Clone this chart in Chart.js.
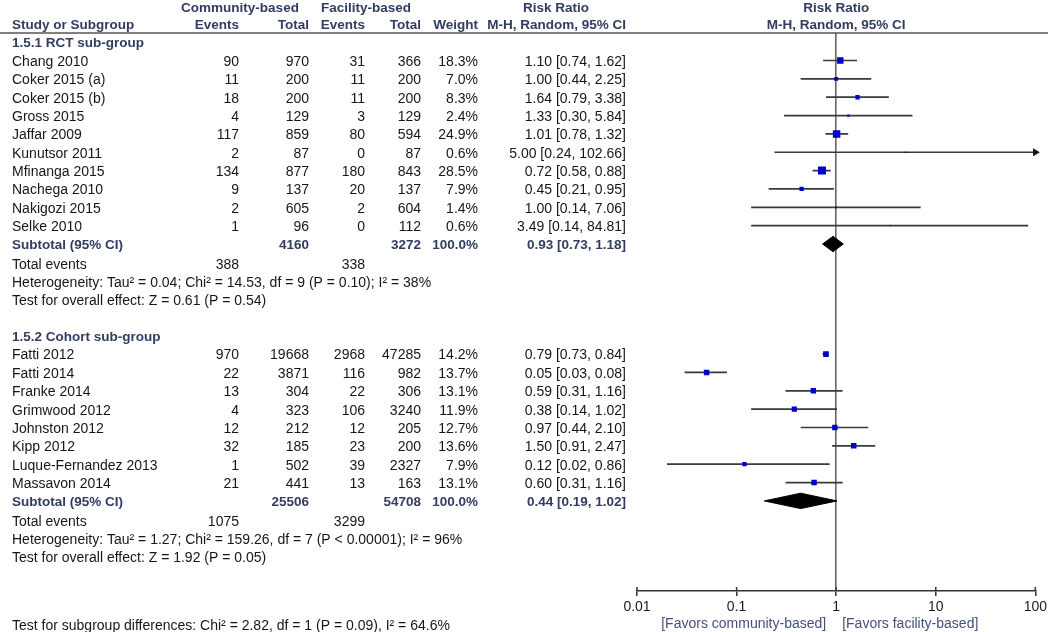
<!DOCTYPE html>
<html><head><meta charset="utf-8">
<script src="https://cdn.jsdelivr.net/npm/chart.js@4.4.1/dist/chart.umd.min.js"></script>
<style>html,body{margin:0;padding:0;background:#fff}#wrap{width:1050px;height:632px;position:relative}</style>
</head><body><div id="wrap"><canvas id="c" width="1050" height="632"></canvas></div>
<script>
// ---------- DATA ----------
const rctStudies = ['Chang 2010','Coker 2015 (a)','Coker 2015 (b)','Gross 2015','Jaffar 2009','Kunutsor 2011','Mfinanga 2015','Nachega 2010','Nakigozi 2015','Selke 2010'];
const rctCommEvents = [90,11,18,4,117,2,134,9,2,1];
const rctCommTotal = [970,200,200,129,859,87,877,137,605,96];
const rctFacEvents = [31,11,11,3,80,0,180,20,2,0];
const rctFacTotal = [366,200,200,129,594,87,843,137,604,112];
const rctWeight = [18.3,7.0,8.3,2.4,24.9,0.6,28.5,7.9,1.4,0.6];
const rctRR = [1.10,1.00,1.64,1.33,1.01,5.00,0.72,0.45,1.00,3.49];
const rctLo = [0.74,0.44,0.79,0.30,0.78,0.24,0.58,0.21,0.14,0.14];
const rctHi = [1.62,2.25,3.38,5.84,1.32,102.66,0.88,0.95,7.06,84.81];
const rctSubtotalTotals = [4160,3272];
const rctSubtotalRR = [0.93,0.73,1.18];
const rctTotalEvents = [388,338];
const rctHeterogeneity = 'Heterogeneity: Tau² = 0.04; Chi² = 14.53, df = 9 (P = 0.10); I² = 38%';
const rctOverall = 'Test for overall effect: Z = 0.61 (P = 0.54)';

const cohStudies = ['Fatti 2012','Fatti 2014','Franke 2014','Grimwood 2012','Johnston 2012','Kipp 2012','Luque-Fernandez 2013','Massavon 2014'];
const cohCommEvents = [970,22,13,4,12,32,1,21];
const cohCommTotal = [19668,3871,304,323,212,185,502,441];
const cohFacEvents = [2968,116,22,106,12,23,39,13];
const cohFacTotal = [47285,982,306,3240,205,200,2327,163];
const cohWeight = [14.2,13.7,13.1,11.9,12.7,13.6,7.9,13.1];
const cohRR = [0.79,0.05,0.59,0.38,0.97,1.50,0.12,0.60];
const cohLo = [0.73,0.03,0.31,0.14,0.44,0.91,0.02,0.31];
const cohHi = [0.84,0.08,1.16,1.02,2.10,2.47,0.86,1.16];
const cohSubtotalTotals = [25506,54708];
const cohSubtotalRR = [0.44,0.19,1.02];
const cohTotalEvents = [1075,3299];
const cohHeterogeneity = 'Heterogeneity: Tau² = 1.27; Chi² = 159.26, df = 7 (P < 0.00001); I² = 96%';
const cohOverall = 'Test for overall effect: Z = 1.92 (P = 0.05)';

const subgroupTitles = ['1.5.1 RCT sub-group','1.5.2 Cohort sub-group'];
const subgroupDiff = 'Test for subgroup differences: Chi² = 2.82, df = 1 (P = 0.09), I² = 64.6%';
const xTickValues = [0.01,0.1,1,10,100];
const xTickLabels = ['0.01','0.1','1','10','100'];
const favorLabels = ['[Favors community-based]','[Favors facility-based]'];

// ---------- LAYOUT (rows) ----------
const X_MIN = 0.01, X_MAX = 100;
const rctStart = 1;
const rctSubRow = rctStart + rctStudies.length;
const cohHeadRow = rctSubRow + 5;
const cohStart = cohHeadRow + 1;
const cohSubRow = cohStart + cohStudies.length;

const fmt2 = v => v.toFixed(2);
const ciText = (r,l,h) => fmt2(r)+' ['+fmt2(l)+', '+fmt2(h)+']';

function studyRows(names, start){ return names.map((_,i)=>start+i); }
const rctRows = studyRows(rctStudies, rctStart);
const cohRows = studyRows(cohStudies, cohStart);

const allRR = rctRR.concat(cohRR), allLo = rctLo.concat(cohLo), allHi = rctHi.concat(cohHi);
const allW = rctWeight.concat(cohWeight), allRows = rctRows.concat(cohRows);

const ciDatasets = allRows.map((row,i)=>({
  type:'scatter', showLine:true, label:'ci'+i,
  data:[{x:allLo[i],y:row},{x:Math.min(allHi[i],X_MAX),y:row}],
  borderColor:'#3a3a3a', borderWidth:1.7, pointRadius:0, order:3
}));
const arrowData = allRows.map((row,i)=>allHi[i]>X_MAX?{x:X_MAX,y:row}:null).filter(Boolean);
const squareSide = w => Math.max(1.3, 1.5*Math.sqrt(w));
const squareDataset = {
  type:'scatter', label:'studies',
  data: allRows.map((row,i)=>({x:allRR[i],y:row})),
  pointStyle:'rect', pointRadius: allW.map(w=>squareSide(w)/Math.SQRT2),
  backgroundColor:'#0000cc', borderWidth:0, order:1
};
const DH = 0.42;
function diamond(sub,row){
  return {type:'scatter', showLine:true, label:'sub'+row,
    data:[{x:sub[1],y:row},{x:sub[0],y:row-DH},{x:sub[2],y:row},{x:sub[0],y:row+DH},{x:sub[1],y:row}],
    borderColor:'#000', borderWidth:1, backgroundColor:'#000', fill:'shape', pointRadius:0, tension:0, order:0};
}
const arrowDataset = {type:'scatter', label:'arrow', data:arrowData, pointStyle:'triangle', rotation:90,
  pointRadius:4.5, backgroundColor:'#111', borderColor:'#111', borderWidth:0, clip:false, order:2};

// ---------- TEXT PLUGIN ----------
const FONT = "'Liberation Sans', Arial, sans-serif";
const COL = {name:12, ce:239, ct:309, fe:365, ft:421, w:478, rr:626};
const HEAD_COLOR = '#323c62', BODY_COLOR = '#161616';
const tablePlugin = {
  id:'table',
  afterDraw(chart){
    const ctx = chart.ctx, ys = chart.scales.y, xs = chart.scales.x;
    const Y = r => ys.getPixelForValue(r) + 1.5;
    function t(s,x,y,align,font,color){ ctx.font=font; ctx.fillStyle=color; ctx.textAlign=align; ctx.textBaseline='middle'; ctx.fillText(s,x,y); }
    const bold = 'bold 13.5px '+FONT, reg = '14px '+FONT;
    ctx.save();
    t('Community-based',240,8,'center',bold,HEAD_COLOR);
    t('Facility-based',366,8,'center',bold,HEAD_COLOR);
    t('Risk Ratio',556,8,'center',bold,HEAD_COLOR);
    t('Risk Ratio',xs.getPixelForValue(1),8,'center',bold,HEAD_COLOR);
    t('Study or Subgroup',COL.name,25,'left',bold,HEAD_COLOR);
    t('Events',COL.ce,25,'right',bold,HEAD_COLOR);
    t('Total',COL.ct,25,'right',bold,HEAD_COLOR);
    t('Events',COL.fe,25,'right',bold,HEAD_COLOR);
    t('Total',COL.ft,25,'right',bold,HEAD_COLOR);
    t('Weight',COL.w,25,'right',bold,HEAD_COLOR);
    t('M-H, Random, 95% CI',COL.rr,25,'right',bold,HEAD_COLOR);
    t('M-H, Random, 95% CI',xs.getPixelForValue(1),25,'center',bold,HEAD_COLOR);
    ctx.strokeStyle='#555'; ctx.lineWidth=1.5;
    ctx.beginPath(); ctx.moveTo(0,chart.chartArea.top); ctx.lineTo(1048,chart.chartArea.top); ctx.stroke();

    function group(title,headRow,names,rows,ce,ct,fe,ft,w,rr,lo,hi,subRow,subTot,subRR,totEv,het,ov){
      t(title,COL.name,Y(headRow),'left',bold,HEAD_COLOR);
      names.forEach((n,i)=>{
        const y=Y(rows[i]);
        t(n,COL.name,y,'left',reg,BODY_COLOR);
        t(String(ce[i]),COL.ce,y,'right',reg,BODY_COLOR);
        t(String(ct[i]),COL.ct,y,'right',reg,BODY_COLOR);
        t(String(fe[i]),COL.fe,y,'right',reg,BODY_COLOR);
        t(String(ft[i]),COL.ft,y,'right',reg,BODY_COLOR);
        t(w[i].toFixed(1)+'%',COL.w,y,'right',reg,BODY_COLOR);
        t(ciText(rr[i],lo[i],hi[i]),COL.rr,y,'right',reg,BODY_COLOR);
      });
      const sy=Y(subRow);
      t('Subtotal (95% CI)',COL.name,sy,'left',bold,HEAD_COLOR);
      t(String(subTot[0]),COL.ct,sy,'right',bold,HEAD_COLOR);
      t(String(subTot[1]),COL.ft,sy,'right',bold,HEAD_COLOR);
      t('100.0%',COL.w,sy,'right',bold,HEAD_COLOR);
      t(ciText(subRR[0],subRR[1],subRR[2]),COL.rr,sy,'right',bold,HEAD_COLOR);
      t('Total events',COL.name,Y(subRow+1)+1,'left',reg,BODY_COLOR);
      t(String(totEv[0]),COL.ce,Y(subRow+1)+1,'right',reg,BODY_COLOR);
      t(String(totEv[1]),COL.fe,Y(subRow+1)+1,'right',reg,BODY_COLOR);
      t(het,COL.name,Y(subRow+2)+1,'left',reg,BODY_COLOR);
      t(ov,COL.name,Y(subRow+3)+1,'left',reg,BODY_COLOR);
    }
    group(subgroupTitles[0],0,rctStudies,rctRows,rctCommEvents,rctCommTotal,rctFacEvents,rctFacTotal,rctWeight,rctRR,rctLo,rctHi,rctSubRow,rctSubtotalTotals,rctSubtotalRR,rctTotalEvents,rctHeterogeneity,rctOverall);
    group(subgroupTitles[1],cohHeadRow,cohStudies,cohRows,cohCommEvents,cohCommTotal,cohFacEvents,cohFacTotal,cohWeight,cohRR,cohLo,cohHi,cohSubRow,cohSubtotalTotals,cohSubtotalRR,cohTotalEvents,cohHeterogeneity,cohOverall);
    t(subgroupDiff,COL.name,626,'left',reg,BODY_COLOR);
    const x1 = xs.getPixelForValue(1);
    t(favorLabels[0],x1-10,624,'right',reg,'#44507e');
    t(favorLabels[1],x1+6,624,'left',reg,'#44507e');
    ctx.strokeStyle='#333'; ctx.lineWidth=1.5;
    xTickValues.forEach(v=>{ const px=xs.getPixelForValue(v); ctx.beginPath(); ctx.moveTo(px,xs.top-4); ctx.lineTo(px,xs.top); ctx.stroke(); });
    ctx.restore();
  }
};

new Chart(document.getElementById('c'), {
  type:'scatter',
  data:{ datasets:[...ciDatasets, squareDataset, arrowDataset, diamond(rctSubtotalRR,rctSubRow), diamond(cohSubtotalRR,cohSubRow)] },
  options:{
    responsive:false, animation:false, devicePixelRatio:1,
    layout:{padding:{left:637,right:13,top:33,bottom:0}},
    plugins:{legend:{display:false}, tooltip:{enabled:false}},
    scales:{
      x:{type:'logarithmic', min:X_MIN, max:X_MAX, position:'bottom',
        afterBuildTicks: s => { s.ticks = xTickValues.map(v=>({value:v})); },
        afterFit: s => { s.height = 41; },
        ticks:{callback:(v,i)=>xTickLabels[i], font:{family:FONT,size:14}, color:'#1a1a1a', padding:3, maxRotation:0, autoSkip:false},
        grid:{drawOnChartArea:true, color: c => (c.tick && c.tick.value===1) ? '#666' : 'rgba(0,0,0,0)', lineWidth:1.6, tickColor:'#333', tickLength:5, tickWidth:1.5},
        border:{display:true, color:'#333', width:1.5}
      },
      y:{type:'linear', display:false, min:-0.5, max:29.91, reverse:true}
    }
  },
  plugins:[tablePlugin]
});
</script></body></html>
